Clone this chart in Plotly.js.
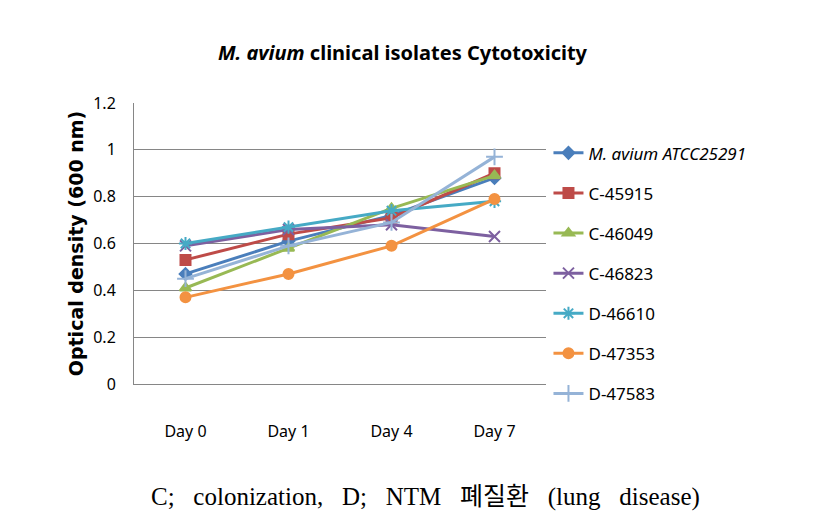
<!DOCTYPE html>
<html>
<head>
<meta charset="utf-8">
<script src="https://cdn.plot.ly/plotly-3.0.1.min.js"></script>
<style>html,body{margin:0;padding:0;background:#fff;}#chart{width:835px;height:527px;}</style>
</head>
<body>
<div id="chart"></div>
<script>
const categories = ["Day 0", "Day 1", "Day 4", "Day 7"];
const seriesNames = ["<i>M. avium ATCC25291</i>", "C-45915", "C-46049", "C-46823", "D-46610", "D-47353", "D-47583"];
const mAvium   = [0.47, 0.61, 0.72, 0.88];
const c45915   = [0.53, 0.64, 0.71, 0.90];
const c46049   = [0.41, 0.58, 0.75, 0.89];
const c46823   = [0.59, 0.66, 0.68, 0.63];
const d46610   = [0.60, 0.67, 0.74, 0.78];
const d47353   = [0.37, 0.47, 0.59, 0.79];
const d47583   = [0.45, 0.59, 0.69, 0.97];
const yTicks = [0, 0.2, 0.4, 0.6, 0.8, 1, 1.2];

const seriesValues = [mAvium, c45915, c46049, c46823, d46610, d47353, d47583];
const colors = ["#4A7EBB", "#BE4B48", "#98B954", "#7D60A0", "#46AAC5", "#F39241", "#95B3D7"];
const symbols = ["diamond", "square", "triangle-up", "x-thin-open", "asterisk-open", "circle", "cross-thin-open"];
const sizes = [9, 10, 10, 11, 11, 10, 12];

const traces = seriesValues.map((vals, i) => ({
  type: "scatter",
  mode: "lines+markers",
  x: categories,
  y: vals,
  name: seriesNames[i],
  legendgroup: "g" + i,
  line: {color: colors[i], width: 3},
  marker: {symbol: symbols[i], size: sizes[i], color: colors[i], line: {color: colors[i], width: 2}}
}));

const sp = "&nbsp;&nbsp;&nbsp;";
const layout = {
  width: 835, height: 527,
  margin: {l: 134, r: 289, t: 103, b: 143},
  paper_bgcolor: "#fff", plot_bgcolor: "#fff",
  font: {family: "Noto Sans, Noto Sans CJK KR, sans-serif", color: "#000", size: 14},
  title: {
    text: "<i>M. avium</i> clinical isolates Cytotoxicity",
    font: {family: "Noto Sans, sans-serif", size: 20, color: "#000", weight: "bold"},
    x: 0.482, xanchor: "center", y: 0.9, yanchor: "middle", yref: "container"
  },
  xaxis: {
    type: "category",
    range: [-0.5, 3.5],
    showgrid: false,
    showline: true, linecolor: "#868686", linewidth: 1,
    ticks: "outside", ticklen: 33, tickcolor: "rgba(0,0,0,0)",
    tickfont: {size: 16, family: "Noto Sans, sans-serif"},
    zeroline: false, fixedrange: true
  },
  yaxis: {
    range: [0, 1.2],
    tickvals: yTicks,
    showgrid: true, gridcolor: "#868686", gridwidth: 1,
    showline: true, linecolor: "#868686", linewidth: 1,
    zeroline: false,
    ticks: "outside", ticklen: 14, tickcolor: "rgba(0,0,0,0)",
    tickfont: {size: 16, family: "Noto Sans, sans-serif"},
    title: {text: "<b>Optical density (600 nm)</b>", font: {size: 19, family: "DejaVu Sans, sans-serif"}, standoff: 4},
    automargin: false
  },
  showlegend: true,
  legend: {
    x: 1.006, xanchor: "left", y: 0.885, yanchor: "top",
    font: {size: 17, family: "Noto Sans, sans-serif"},
    tracegroupgap: 15, itemwidth: 30,
    bgcolor: "rgba(0,0,0,0)"
  },
  annotations: [{
    text: "C;" + sp + "colonization," + sp + "D;" + sp + "NTM" + sp + "<span style=\"font-family:'Noto Sans CJK KR'\">폐질환</span>" + sp + "(lung" + sp + "disease)",
    xref: "paper", yref: "paper",
    x: (425 - 134) / 412, y: -0.39, xanchor: "center", yanchor: "middle",
    showarrow: false,
    font: {family: "Liberation Serif, Noto Sans CJK KR, serif", size: 25, color: "#000"}
  }]
};

Plotly.newPlot("chart", traces, layout, {displayModeBar: false, staticPlot: true});
</script>
</body>
</html>
